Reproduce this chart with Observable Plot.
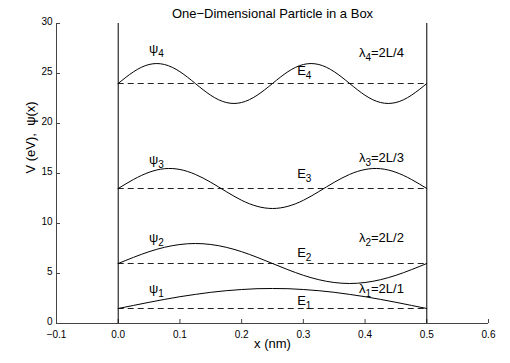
<!DOCTYPE html>
<html>
<head>
<meta charset="utf-8">
<script src="https://cdn.jsdelivr.net/npm/d3@7"></script>
<script src="https://cdn.jsdelivr.net/npm/@observablehq/plot@0.6"></script>
<style>
  html, body { margin: 0; padding: 0; background: #fff; }
  svg { font-family: "Liberation Sans", Arial, Helvetica, sans-serif; }
</style>
</head>
<body>
<div id="chart"></div>
<script>
// ---- data ----
const titleText = "One\u2212Dimensional Particle in a Box";
const xLabelText = "x (nm)";
const yLabelText = "V (eV),  \u03c8(x)";

const xs = [0, 0.025, 0.05, 0.075, 0.1, 0.125, 0.15, 0.175, 0.2, 0.225, 0.25,
            0.275, 0.3, 0.325, 0.35, 0.375, 0.4, 0.425, 0.45, 0.475, 0.5];
const psi1 = [1.5, 1.81, 2.12, 2.41, 2.68, 2.91, 3.12, 3.28, 3.40, 3.48, 3.5,
              3.48, 3.40, 3.28, 3.12, 2.91, 2.68, 2.41, 2.12, 1.81, 1.5];
const psi2 = [6, 6.62, 7.18, 7.62, 7.90, 8.0, 7.90, 7.62, 7.18, 6.62, 6,
              5.38, 4.82, 4.38, 4.10, 4.0, 4.10, 4.38, 4.82, 5.38, 6];
const psi3 = [13.5, 14.41, 15.12, 15.48, 15.40, 14.91, 14.12, 13.19, 12.32, 11.72, 11.5,
              11.72, 12.32, 13.19, 14.12, 14.91, 15.40, 15.48, 15.12, 14.41, 13.5];
const psi4 = [24, 25.18, 25.90, 25.90, 25.18, 24, 22.82, 22.10, 22.10, 22.82, 24,
              25.18, 25.90, 25.90, 25.18, 24, 22.82, 22.10, 22.10, 22.82, 24];

const levels = [1, 2, 3, 4];
const energies = [1.5, 6, 13.5, 24];
const wallX = [0, 0.5];

const psiLabelX = 0.05;
const psiLabelY = [3.5, 8.6, 16.4, 27.5];
const eLabelX = 0.29;
const eLabelY = [2.3, 7.1, 15.0, 25.3];
const lambdaLabelX = 0.39;
const lambdaLabelY = [3.5, 8.6, 16.6, 27.1];
const lambdaText = ["2L/1", "2L/2", "2L/3", "2L/4"];

const xTicks = [-0.1, 0, 0.1, 0.2, 0.3, 0.4, 0.5, 0.6];
const yTicks = [0, 5, 10, 15, 20, 25, 30];
const xDomain = [-0.1, 0.6];
const yDomain = [0, 30];

// ---- build tables ----
const series = [psi1, psi2, psi3, psi4];
const waveRows = series.flatMap((s, k) => xs.map((x, i) => ({n: levels[k], x, y: s[i]})));
const levelRows = levels.map((n, i) => ({n, E: energies[i]}));

const W = 510, H = 363;
const mL = 56, mR = 22, mT = 23, mB = 40;
const axisColor = "#444";

const plot = Plot.plot({
  width: W,
  height: H,
  marginLeft: mL, marginRight: mR, marginTop: mT, marginBottom: mB,
  style: {fontFamily: '"Liberation Sans", Arial, Helvetica, sans-serif', background: "#fff", color: "#000"},
  x: {domain: xDomain, label: null},
  y: {domain: yDomain, label: null},
  marks: [
    // axes lines
    Plot.ruleY([yDomain[0]], {stroke: axisColor}),
    Plot.ruleX([xDomain[0]], {stroke: axisColor}),
    // inward ticks
    Plot.tickX(xTicks, {x: d => d, insetTop: (H - mT - mB) - 4, stroke: axisColor}),
    Plot.tickY(yTicks, {y: d => d, insetRight: (W - mL - mR) - 4, stroke: axisColor}),
    Plot.axisX(xTicks, {tickSize: 0, tickPadding: 7, fontSize: 10, label: null}),
    Plot.axisY(yTicks, {tickSize: 0, tickPadding: 4, dy: -2, fontSize: 10, label: null}),
    // box walls
    Plot.ruleX(wallX, {x: d => d, y1: yDomain[0], y2: yDomain[1], stroke: "#000", strokeWidth: 1}),
    // energy levels
    Plot.ruleY(levelRows, {y: "E", x1: wallX[0], x2: wallX[1], stroke: "#222", strokeDasharray: "6,4"}),
    // wave functions
    Plot.line(waveRows, {x: "x", y: "y", z: "n", curve: "natural", stroke: "#000", strokeWidth: 1}),
    // annotations
    Plot.text(levels, {x: () => psiLabelX, y: (d, i) => psiLabelY[i], text: d => "\u03c8_" + d, textAnchor: "start", fontSize: 13}),
    Plot.text(levels, {x: () => eLabelX, y: (d, i) => eLabelY[i], text: d => "E_" + d, textAnchor: "start", fontSize: 13}),
    Plot.text(levels, {x: () => lambdaLabelX, y: (d, i) => lambdaLabelY[i], text: (d, i) => "\u03bb_" + d + "=" + lambdaText[i], textAnchor: "start", fontSize: 13}),
    // title and axis labels
    Plot.text([titleText], {text: d => d, frameAnchor: "top", dy: -15, fontSize: 13, letterSpacing: "0.9px"}),
    Plot.text([xLabelText], {text: d => d, frameAnchor: "bottom", dy: 24, fontSize: 13}),
    Plot.text([yLabelText], {text: d => d, frameAnchor: "left", dx: -26, rotate: -90, fontSize: 13})
  ]
});

// subscripts
d3.select(plot).selectAll("text").each(function() {
  const t = this.textContent;
  const m = /^(.*?)_(\d)(.*)$/.exec(t);
  if (!m || this.querySelector("tspan")) return;
  const sel = d3.select(this);
  sel.text(null);
  sel.append("tspan").text(m[1]);
  sel.append("tspan").attr("dy", 4).attr("font-size", 10).text(m[2]);
  if (m[3]) sel.append("tspan").attr("dy", -4).text(m[3]);
});

document.getElementById("chart").appendChild(plot);
</script>
</body>
</html>
